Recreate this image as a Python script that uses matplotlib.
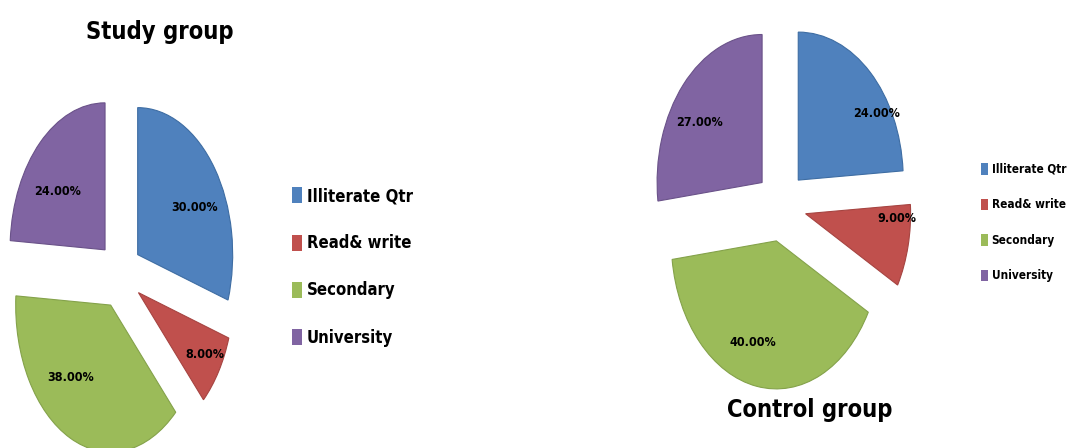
import matplotlib
matplotlib.use('Agg')
import matplotlib.pyplot as plt
from matplotlib import font_manager
from matplotlib.patches import Patch
import numpy as np

# ---------------- data ----------------
categories = ['Illiterate Qtr', 'Read& write', 'Secondary', 'University']
study_values = [30, 8, 38, 24]
control_values = [24, 9, 40, 27]
study_labels = ['30.00%', '8.00%', '38.00%', '24.00%']
control_labels = ['24.00%', '9.00%', '40.00%', '27.00%']
colors = ['#4F81BD', '#C0504D', '#9BBB59', '#8064A2']
edge_colors = ['#3E6DA3', '#A64441', '#84A24A', '#6A5289']

# ---------------- font ----------------
names = {f.name for f in font_manager.fontManager.ttflist}
files = [f.fname.lower() for f in font_manager.fontManager.ttflist]
if 'Liberation Sans Narrow' in names:
    FONT = dict(family='Liberation Sans Narrow', weight='bold')
elif any('dejavusanscondensed-bold' in f for f in files):
    FONT = dict(family='DejaVu Sans', weight='bold', stretch='condensed')
else:
    FONT = dict(family='DejaVu Sans', weight='bold')

W, H = 1075, 448
fig = plt.figure(figsize=(W / 100, H / 100), dpi=100)
fig.patch.set_facecolor('white')


def draw_pie(values, labels, cx, cy, rx, ry, explode, dists, fracs, fs):
    ax = fig.add_axes([0, 0, 1, 1])
    wedges, _ = ax.pie(values, colors=colors, startangle=90, counterclock=False,
                       explode=[explode] * len(values), radius=1,
                       wedgeprops=dict(linewidth=0.8))
    for w, ec in zip(wedges, edge_colors):
        w.set_edgecolor(ec)
    ax.set_aspect('auto')
    ax.set_xlim(-cx / rx, (W - cx) / rx)
    ax.set_ylim((cy - H) / ry, cy / ry)
    ax.set_axis_off()
    ax.patch.set_alpha(0)
    for w, lab, d, f in zip(wedges, labels, dists, fracs):
        ang = np.deg2rad(w.theta1 + f * (w.theta2 - w.theta1))
        ox, oy = w.center
        ax.text(ox + d * np.cos(ang), oy + d * np.sin(ang), lab,
                ha='center', va='center', fontsize=fs, color='black', **FONT)
    return wedges


draw_pie(study_values, study_labels, 120, 274.5, 95, 147, 0.23,
         [0.68, 0.82, 0.645, 0.64], [0.43, 0.55, 0.39, 0.6], 9)
draw_pie(control_values, control_labels, 781, 206, 105, 148, 0.24,
         [0.87, 0.87, 0.72, 0.72], [0.32, 0.83, 0.45, 0.57], 9)

handles = [Patch(facecolor=c, edgecolor='none') for c in colors]

fig.legend(handles=handles, labels=categories, loc='upper left',
           bbox_to_anchor=(292 / W, 1 - 187 / H), frameon=False,
           borderpad=0, borderaxespad=0, handlelength=0.6, handleheight=1.1,
           handletextpad=0.3, labelspacing=1.75,
           prop=font_manager.FontProperties(size=12, **FONT))
fig.legend(handles=handles, labels=categories, loc='upper left',
           bbox_to_anchor=(981 / W, 1 - 163 / H), frameon=False,
           borderpad=0, borderaxespad=0, handlelength=0.6, handleheight=1.1,
           handletextpad=0.3, labelspacing=1.9,
           prop=font_manager.FontProperties(size=8.5, **FONT))

fig.text(160 / W, 1 - 32 / H, 'Study group', ha='center', va='center',
         fontsize=17, **FONT)
fig.text(810 / W, 1 - 410 / H, 'Control group', ha='center', va='center',
         fontsize=17, **FONT)

fig.savefig('out.png', dpi=100, facecolor='white')
